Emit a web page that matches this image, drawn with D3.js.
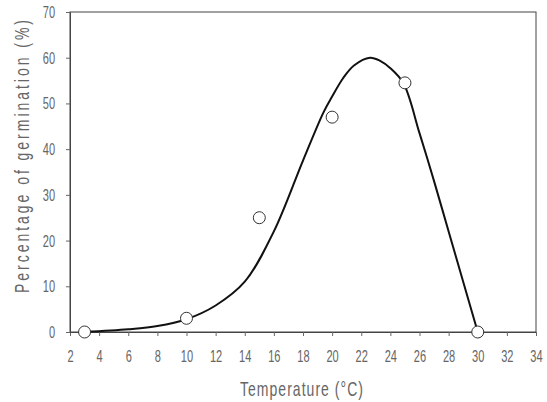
<!DOCTYPE html>
<html><head><meta charset="utf-8">
<script src="https://cdn.jsdelivr.net/npm/d3@7"></script>
<style>
body{margin:0;background:#fff;}
text{font-family:"Liberation Sans",Arial,sans-serif;fill:#666;}
</style></head><body>
<svg id="c" width="547" height="402"></svg>
<script>
const obsTemp = [3, 10, 15, 20, 25, 30];
const obsGerm = [0, 3, 25, 47, 54.5, 0];
const fitTemp = [3, 6, 8, 10, 12, 14, 16, 18, 19.4, 20, 20.75, 21.5, 22.6, 23.3, 24, 24.9, 26, 27, 28, 29, 30];
const fitGerm = [0, 0.6, 1.3, 2.8, 5.8, 11, 22, 37.5, 48, 51.5, 55.5, 58.3, 60, 59.3, 57.7, 54.4, 43.5, 33, 22, 11, 0];
const xTicks = [2,4,6,8,10,12,14,16,18,20,22,24,26,28,30,32,34];
const yTicks = [0,10,20,30,40,50,60,70];

const svg = d3.select("#c");
const m = {l:70, r:536, t:12, b:332};
const x = d3.scaleLinear().domain([2,34]).range([m.l, m.r]);
const y = d3.scaleLinear().domain([0,70]).range([m.b, m.t]);

svg.append("rect").attr("x",m.l).attr("y",m.t).attr("width",m.r-m.l).attr("height",m.b-m.t)
  .attr("fill","none").attr("stroke","#444").attr("stroke-width",1);

const xa = svg.append("g").attr("transform",`translate(0,${m.b})`)
  .call(d3.axisBottom(x).tickValues(xTicks).tickSize(4).tickPadding(14));
const ya = svg.append("g").attr("transform",`translate(${m.l},0)`)
  .call(d3.axisLeft(y).tickValues(yTicks).tickSize(4).tickPadding(19));
[xa,ya].forEach(g=>{
  g.select(".domain").attr("stroke","#444");
  g.selectAll(".tick line").attr("stroke","#666");
  g.selectAll(".tick text").attr("font-size",17).attr("fill","#666")
   .style("font-family",'"Liberation Sans",Arial,sans-serif')
   .attr("transform","scale(0.65,1)");
});

const fit = fitTemp.map((t,i)=>[t,fitGerm[i]]);
svg.append("path").datum(fit)
  .attr("d", d3.line().x(d=>x(d[0])).y(d=>y(d[1])).curve(d3.curveCatmullRom.alpha(0.5)))
  .attr("fill","none").attr("stroke","#111").attr("stroke-width",2);

svg.selectAll("circle.o").data(obsTemp.map((t,i)=>[t,obsGerm[i]])).enter()
  .append("circle").attr("class","o")
  .attr("cx",d=>x(d[0])).attr("cy",d=>y(d[1])).attr("r",6)
  .attr("fill","#fff").attr("stroke","#333").attr("stroke-width",1);

const sx = 0.7;
svg.append("g").attr("transform","translate(240,396) scale(0.7,1)")
  .append("text").attr("x",0).attr("y",0).attr("fill","#6a6a6a")
  .attr("font-size",20).attr("textLength",123/sx).attr("lengthAdjust","spacing")
  .text("Temperature (°C)");
svg.append("g").attr("transform","translate(29,293) rotate(-90) scale(0.7,1)")
  .append("text").attr("x",0).attr("y",0).attr("fill","#6a6a6a")
  .attr("font-size",20).attr("textLength",273/sx).attr("lengthAdjust","spacing")
  .text("Percentage of germination (%)");
</script>
</body></html>
